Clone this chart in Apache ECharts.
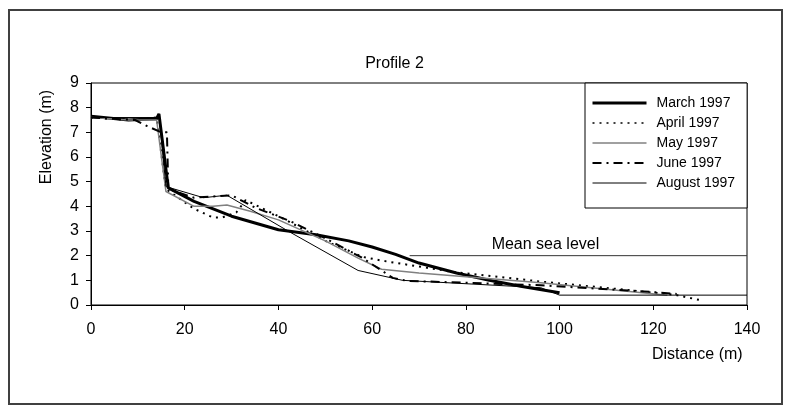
<!DOCTYPE html>
<html>
<head>
<meta charset="utf-8">
<script src="https://cdn.jsdelivr.net/npm/echarts@6/dist/echarts.min.js"></script>
<style>
  html, body { margin: 0; padding: 0; background: #fff; }
  #myChart { width: 789px; height: 412px; }
</style>
</head>
<body>
<div id="myChart"></div>
<script>
// profile survey points [distance (m), elevation (m)]
let marchData = [[0, 7.65], [8, 7.5], [14, 7.55], [14.5, 7.75], [16.5, 4.75], [22, 4.2], [30, 3.6], [40, 3.05], [48, 2.85], [55, 2.6], [60, 2.35], [65, 2.05], [70, 1.7], [78, 1.3], [85, 1.0], [92, 0.75], [100, 0.5]]
let aprilData = [[0, 7.6], [8, 7.5], [14, 7.6], [16, 4.7], [22, 3.9], [26, 3.55], [28, 3.55], [31, 3.75], [33, 4.25], [40, 3.6], [50, 2.6], [58, 1.95], [62, 1.8], [77, 1.35], [96, 0.95], [115, 0.6], [125, 0.4], [130, 0.2]]
let mayData = [[0, 7.6], [8, 7.5], [14, 7.5], [16, 4.6], [22, 4.0], [26, 4.0], [29, 4.05], [34, 3.8], [40, 3.45], [50, 2.6], [57, 1.9], [62, 1.45], [70, 1.3], [96, 0.9], [123, 0.4]]
let juneData = [[0, 7.6], [9.4, 7.5], [12, 7.25], [15, 7.0], [16.2, 7.0], [16.5, 4.7], [22, 4.35], [30, 4.45], [35, 3.95], [42.5, 3.4], [49.5, 2.75], [58, 1.9], [64.4, 1.1], [67.4, 0.98], [96, 0.8], [118, 0.55], [125, 0.45]]
let augustData = [[0, 7.6], [14, 7.6], [14.5, 7.75], [16, 4.8], [24, 4.35], [29, 4.45], [42.5, 2.95], [57, 1.4], [66.5, 1.0], [96, 0.7], [100, 0.4], [140, 0.4]]
let seaLevel = [[68, 2], [140, 2]]
let seriesNames = ['March 1997', 'April 1997', 'May 1997', 'June 1997', 'August 1997']
let legendWidths = [3, 1.5, 1.5, 2, 1]

let myChart = echarts.init(document.getElementById('myChart'))
let font = 'Liberation Sans, Arial, sans-serif'

let option = {
    backgroundColor: '#fff',
    animation: false,
    textStyle: { fontFamily: font, color: '#000' },
    title: {
        text: 'Profile 2',
        left: 'center',
        top: 51,
        textStyle: { fontSize: 16, fontWeight: 'normal', color: '#000', fontFamily: font }
    },
    grid: {
        left: 91,
        right: 42,
        top: 83,
        bottom: 107,
        show: true,
        borderColor: '#000',
        borderWidth: 1
    },
    legend: {
        data: seriesNames.map((n, i) => ({ name: n, lineStyle: { width: legendWidths[i] } })),
        orient: 'vertical',
        left: 585,
        top: 83,
        itemWidth: 54,
        itemHeight: 14,
        itemGap: 6,
        padding: [13, 12, 18, 6],
        backgroundColor: '#fff',
        borderColor: '#000',
        borderWidth: 1,
        itemStyle: { opacity: 0 },
        textStyle: { fontSize: 14, color: '#000', fontFamily: font, padding: [0, 0, 0, 5] }
    },
    xAxis: {
        type: 'value',
        min: 0,
        max: 140,
        interval: 20,
        splitLine: { show: false },
        axisLine: { lineStyle: { color: '#000', width: 1 } },
        axisTick: { length: 5, lineStyle: { color: '#000' } },
        axisLabel: { fontSize: 16, color: '#000', margin: 17, fontFamily: font }
    },
    yAxis: {
        type: 'value',
        min: 0,
        max: 9,
        interval: 1,
        splitLine: { show: false },
        axisLine: { show: true, lineStyle: { color: '#000', width: 1 } },
        axisTick: { show: true, length: 5, lineStyle: { color: '#000' } },
        axisLabel: { fontSize: 16, color: '#000', margin: 12, fontFamily: font }
    },
    graphic: [
        {
            type: 'rect',
            shape: { x: 9, y: 10, width: 773, height: 394 },
            style: { fill: 'none', stroke: '#404040', lineWidth: 2 },
            silent: true
        },
        {
            type: 'text',
            x: 47,
            y: 137,
            rotation: Math.PI / 2,
            style: { text: 'Elevation (m)', font: '16px ' + font, fill: '#000', textAlign: 'center', textVerticalAlign: 'middle' }
        },
        {
            type: 'text',
            x: 652,
            y: 355,
            style: { text: 'Distance (m)', font: '16px ' + font, fill: '#000', textAlign: 'left', textVerticalAlign: 'middle' }
        }
    ],
    series: [
        {
            name: 'Mean sea level',
            type: 'line',
            data: seaLevel,
            symbol: 'none',
            z: 1,
            lineStyle: { color: '#333', width: 1 },
            markPoint: {
                symbol: 'circle',
                symbolSize: 0,
                data: [{ coord: [85.5, 2] }],
                label: {
                    show: true,
                    formatter: 'Mean sea level',
                    position: 'right',
                    distance: 0,
                    offset: [0, -11],
                    fontSize: 16,
                    color: '#000',
                    fontFamily: font
                }
            }
        },
        {
            name: 'March 1997',
            type: 'line',
            data: marchData,
            symbol: 'none',
            color: '#000',
            lineStyle: { color: '#000', width: 3 }
        },
        {
            name: 'April 1997',
            type: 'line',
            data: aprilData,
            symbol: 'none',
            color: '#000',
            lineStyle: { color: '#000', width: 2, type: [2, 5] }
        },
        {
            name: 'May 1997',
            type: 'line',
            data: mayData,
            symbol: 'none',
            color: '#808080',
            lineStyle: { color: '#808080', width: 1.5 }
        },
        {
            name: 'June 1997',
            type: 'line',
            data: juneData,
            symbol: 'none',
            color: '#000',
            lineStyle: { color: '#000', width: 2, type: [9, 5, 2, 5] }
        },
        {
            name: 'August 1997',
            type: 'line',
            data: augustData,
            symbol: 'none',
            color: '#000',
            lineStyle: { color: '#000', width: 1 }
        }
    ]
}
myChart.setOption(option)
</script>
</body>
</html>
